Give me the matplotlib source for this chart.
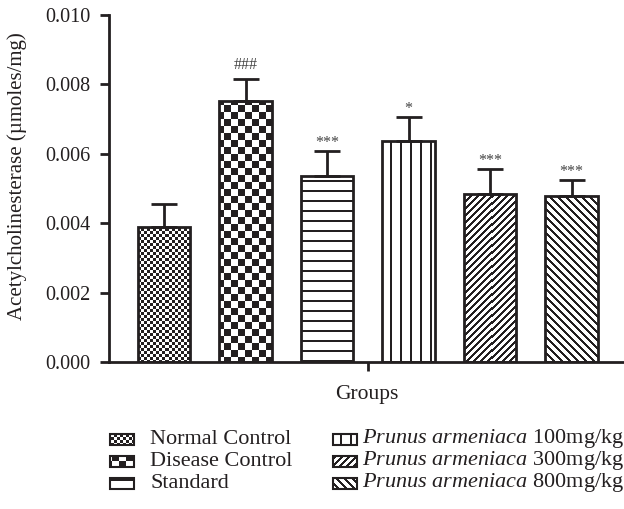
import numpy as np
import matplotlib
matplotlib.use("Agg")
import matplotlib.pyplot as plt
from matplotlib.colors import ListedColormap
from matplotlib.patches import Rectangle

# data
groups = ["Normal Control", "Disease Control", "Standard",
          "Prunus armeniaca 100mg/kg", "Prunus armeniaca 300mg/kg",
          "Prunus armeniaca 800mg/kg"]
legend_labels = ["Normal Control", "Disease Control", "Standard",
                 r"$\mathit{Prunus\ armeniaca}$ 100mg/kg",
                 r"$\mathit{Prunus\ armeniaca}$ 300mg/kg",
                 r"$\mathit{Prunus\ armeniaca}$ 800mg/kg"]
means = [0.00389, 0.00752, 0.00536, 0.00637, 0.00484, 0.00478]
errors = [0.00066, 0.00064, 0.00072, 0.00069, 0.00072, 0.00046]
marks = ["", "###", "***", "*", "***", "***"]
patterns = ["fine_check", "coarse_check", "hlines", "vlines", "diag_up", "diag_down"]

INK = "#231f20"
FIG_W, FIG_H = 624, 509

plt.rcParams["font.family"] = ["Liberation Serif", "DejaVu Serif"]
plt.rcParams["mathtext.fontset"] = "custom"
plt.rcParams["mathtext.rm"] = "Liberation Serif"
plt.rcParams["mathtext.it"] = "Liberation Serif:italic"

fig = plt.figure(figsize=(FIG_W / 100, FIG_H / 100), dpi=100)


def px_axes(left, top, right, bottom):
    # axes placed by pixel edges (measured from the top-left corner)
    return fig.add_axes([left / FIG_W, 1 - bottom / FIG_H,
                         (right - left) / FIG_W, (bottom - top) / FIG_H])


def texture(kind, left, top, w, h):
    r, c = np.mgrid[top:top + h, left:left + w]
    if kind == "fine_check":
        t = (r // 3 + c // 3) % 2
    elif kind == "coarse_check":
        t = (r // 7 + c // 7) % 2
    elif kind == "hlines":
        t = (r % 10) < 2
    elif kind == "vlines":
        t = (c % 10) < 2
    elif kind == "diag_up":
        t = ((r + c) % 7) < 3
    else:
        t = ((c - r) % 8) < 3
    return t.astype(float)


cmap = ListedColormap(["white", INK])


def fill_patch(ax, patch, kind, box, extent):
    left, top, w, h = box
    im = ax.imshow(texture(kind, left, top, w, h), cmap=cmap, vmin=0, vmax=1,
                   extent=extent, origin="upper", aspect="auto",
                   interpolation="nearest", zorder=2)
    im.set_clip_path(patch)


# main plot
AX_L, AX_T, AX_R, AX_B = 109, 15, 624, 362
ax = px_axes(AX_L, AX_T, AX_R, AX_B)
x = np.arange(len(groups))
xlim = (-0.675, 5.644)
ylim = (0, 0.010)

bars = ax.bar(x, means, width=0.64, facecolor="none", edgecolor=INK,
              linewidth=2, zorder=3)
for b, kind in zip(bars, patterns):
    fill_patch(ax, b, kind, (AX_L, AX_T, AX_R - AX_L, AX_B - AX_T),
               (xlim[0], xlim[1], ylim[0], ylim[1]))

ax.errorbar(x, means, yerr=[np.zeros(len(means)), errors], fmt="none",
            ecolor=INK, elinewidth=2, capsize=9.5, capthick=2, zorder=3)
for xi, m, e, s in zip(x, means, errors, marks):
    if s:
        lift = 4.5 if "#" in s else 0   # asterisks sit high in the font
        ax.annotate(s, (xi, m + e), xytext=(0, lift), textcoords="offset points",
                    ha="center", va="bottom", fontsize=11.5, color="#444444")

ax.set_xlim(*xlim)
ax.set_ylim(*ylim)
ax.set_yticks(np.arange(0, 0.0101, 0.002))
ax.set_yticklabels(["0.000", "0.002", "0.004", "0.006", "0.008", "0.010"])
ax.set_xticks([2.5])
ax.set_xticklabels([""])
ax.tick_params(axis="both", direction="out", length=6.5, width=2, color=INK,
               labelsize=14.5, labelcolor=INK, pad=7)
for side in ["top", "right"]:
    ax.spines[side].set_visible(False)
for side in ["left", "bottom"]:
    ax.spines[side].set_linewidth(2)
    ax.spines[side].set_color(INK)
ax.set_ylabel("Acetylcholinesterase (µmoles/mg)", fontsize=15, color=INK)
ax.yaxis.set_label_coords(-0.16, 0.536)
ax.set_xlabel("Groups", fontsize=15.5, color=INK, labelpad=3)

# legend drawn in its own pixel-space axes
LG_T, LG_B = 420, 500
lax = px_axes(0, LG_T, FIG_W, LG_B)
lax.set_xlim(0, FIG_W)
lax.set_ylim(LG_B, LG_T)
lax.axis("off")
row_y = [439, 461, 483]
col_x = [(110, 150), (333, 362)]
for i, (lab, kind) in enumerate(zip(legend_labels, patterns)):
    bx, tx = col_x[i // 3]
    cy = row_y[i % 3]
    rect = Rectangle((bx, cy - 5.5), 24, 11, facecolor="none", edgecolor=INK,
                     linewidth=1.5, zorder=3)
    lax.add_patch(rect)
    fill_patch(lax, rect, kind, (0, LG_T, FIG_W, LG_B - LG_T),
               (0, FIG_W, LG_B, LG_T))
    lax.text(tx, cy, lab, fontsize=16, color=INK, va="center", ha="left")
lax.set_xlim(0, FIG_W)
lax.set_ylim(LG_B, LG_T)

fig.savefig("out.png", dpi=100)
